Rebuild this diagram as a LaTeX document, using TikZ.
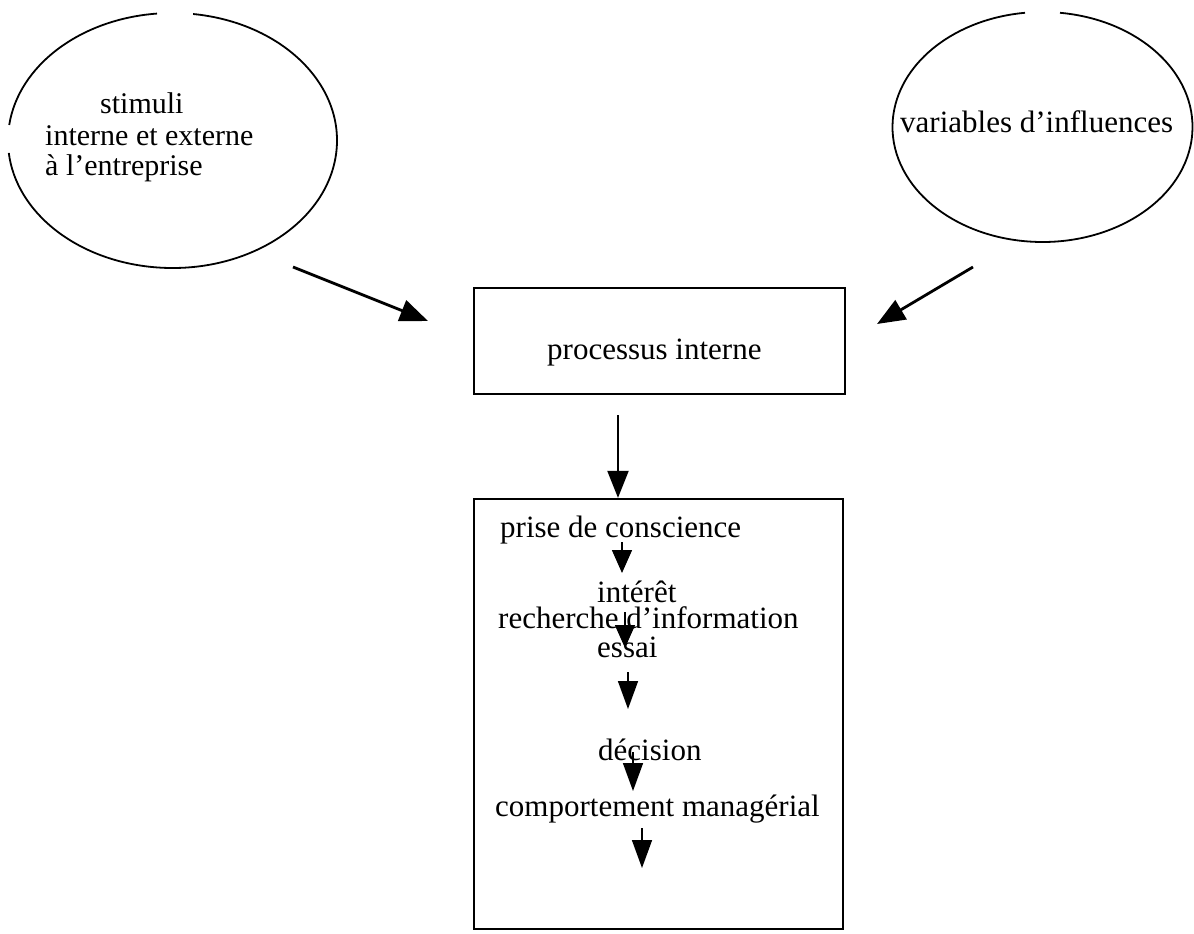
\documentclass[tikz,border=0pt]{standalone}
\usepackage{fontspec}
\setmainfont{Liberation Serif}
\usetikzlibrary{arrows.meta,shapes.geometric}

\tikzset{
  txt/.style={inner sep=0pt, anchor=base west, font=\fontsize{31}{31}\selectfont},
  txtsm/.style={txt, font=\fontsize{30}{30}\selectfont},
  oval/.style={line width=1.8pt},
  box/.style={draw, line width=2.2pt, inner sep=0pt},
  bigarrow/.style={line width=2.8pt, -{Triangle[length=28pt,width=22pt]}},
  downarrow/.style={line width=2pt, -{Triangle[length=27pt,width=21pt]}},
  smallarrow/.style={line width=1.6pt, -{Triangle[length=23pt,width=20pt]}},
  midarrow/.style={line width=1.6pt, -{Triangle[length=28pt,width=20pt]}}
}

\begin{document}
\begin{tikzpicture}[x=1pt, y=-1pt]
\useasboundingbox (0,0) rectangle (1194,934);

% ---- the two ovals (drawn as arcs, the outline is broken in places)
\node[ellipse, minimum width=329pt, minimum height=255pt, inner sep=0pt] (stim) at (172.5,140.5) {};
\draw[oval] (172.5,140.5) ++(277.2:164.5 and 127.5)
  arc[start angle=277.2, end angle=534.4, x radius=164.5, y radius=127.5];
\draw[oval] (172.5,140.5) ++(187:164.5 and 127.5)
  arc[start angle=187, end angle=264.6, x radius=164.5, y radius=127.5];

\node[ellipse, minimum width=300pt, minimum height=230pt, inner sep=0pt] (infl) at (1042.5,127) {};
\draw[oval] (1042.5,127) ++(276.7:150 and 115)
  arc[start angle=276.7, end angle=623.3, x radius=150, y radius=115];

% ---- oval texts
\node[txtsm] (st1) at (100,113) {stimuli};
\node[txtsm] (st2) at (45,145) {interne et externe};
\node[txtsm] (st3) at (45,175) {à l’entreprise};
\node[txt] (vi) at (900,132) {variables d’influences};

% ---- boxes
\node[box, minimum width=371pt, minimum height=106pt] (proc) at (659.5,341) {};
\node[txt] (proct) at (547,359) {processus interne};
\node[box, minimum width=369pt, minimum height=430pt] (steps) at (658.5,714) {};

% ---- arrows into the process box
\coordinate (sa) at (293,267);
\coordinate (sb) at (428,321);
\coordinate (va) at (973,267);
\coordinate (vb) at (877,324);
\draw[bigarrow] (sa) -- (sb);
\draw[bigarrow] (va) -- (vb);

% ---- process box to the steps box
\coordinate (pa) at (618,415);
\draw[downarrow] (pa) -- (steps.north -| pa);

% ---- steps
\node[txt] (s1) at (500,537) {prise de conscience};
\node[txt] (s2) at (597,602) {intérêt};
\node[txt] (s3) at (498,628) {recherche d’information};
\node[txt] (s4) at (597,657) {essai};
\node[txt] (s5) at (598,760) {décision};
\node[txt] (s6) at (495,816) {comportement managérial};

\coordinate (a1) at (622,542);  \coordinate (b1) at (622,573);
\coordinate (a2) at (625,612);  \coordinate (b2) at (625,648);
\coordinate (a3) at (628,672);  \coordinate (b3) at (628,709);
\coordinate (a4) at (633,752);  \coordinate (b4) at (633,791);
\coordinate (a5) at (642,828);  \coordinate (b5) at (642,868);
\draw[smallarrow] (a1) -- (b1);
\draw[smallarrow] (a2) -- (b2);
\draw[midarrow] (a3) -- (b3);
\draw[midarrow] (a4) -- (b4);
\draw[midarrow] (a5) -- (b5);
\end{tikzpicture}
\end{document}
